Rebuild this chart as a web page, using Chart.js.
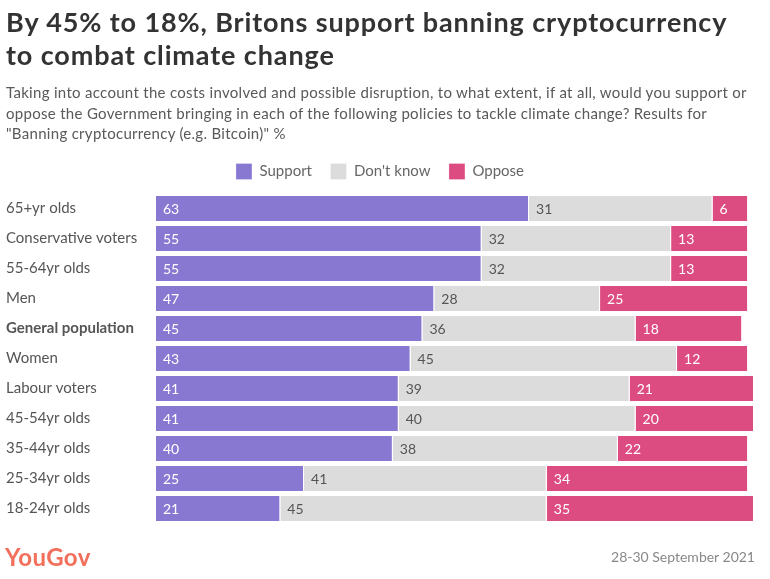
<!DOCTYPE html>
<html><head><meta charset="utf-8">
<script src="https://cdn.jsdelivr.net/npm/chart.js@4"></script>
<style>
html,body{margin:0;padding:0;background:#fff;}
#wrap{position:relative;width:770px;height:579px;overflow:hidden;font-family:Lato,"Open Sans",sans-serif;}
#title{position:absolute;left:6px;top:5px;font-size:27px;font-weight:700;color:#333;line-height:33px;letter-spacing:0.88px;white-space:nowrap;}
#sub{position:absolute;left:6px;top:82px;font-size:15px;color:#595959;line-height:20.5px;letter-spacing:0.3px;white-space:nowrap;}
#logo{position:absolute;left:5px;top:542px;font-size:24px;color:#f26f5c;font-weight:700;letter-spacing:0.4px;}
#date{position:absolute;right:15px;top:548px;font-size:14px;color:#888;}
canvas{position:absolute;left:0;top:0;}
</style></head><body>
<div id="wrap">
<canvas id="c" width="770" height="579"></canvas>
<div id="title">By 45% to 18%, Britons support banning cryptocurrency<br>to combat climate change</div>
<div id="sub">Taking into account the costs involved and possible disruption, to what extent, if at all, would you support or<br>oppose the Government bringing in each of the following policies to tackle climate change? Results for<br>"Banning cryptocurrency (e.g. Bitcoin)" %</div>
<div id="logo">YouGov</div>
<div id="date">28-30 September 2021</div>
</div>
<script>
const categories = ["65+yr olds","Conservative voters","55-64yr olds","Men","General population","Women","Labour voters","45-54yr olds","35-44yr olds","25-34yr olds","18-24yr olds"];
const support  = [63,55,55,47,45,43,41,41,40,25,21];
const dontKnow = [31,32,32,28,36,45,39,40,38,41,45];
const oppose   = [6,13,13,25,18,12,21,20,22,34,35];
const seriesNames = ["Support","Don't know","Oppose"];
const colors = ["#8878d2","#dcdcdc","#dd4c81"];
const labelColors = ["#ffffff","#555555","#ffffff"];

const valueLabels = {
  id:'valueLabels',
  afterDatasetsDraw(chart){
    const ctx = chart.ctx;
    ctx.save();
    ctx.font = '14px Lato, sans-serif';
    ctx.textBaseline = 'middle';
    ctx.textAlign = 'left';
    chart.data.datasets.forEach((ds,i)=>{
      const meta = chart.getDatasetMeta(i);
      meta.data.forEach((bar,j)=>{
        const v = ds.data[j];
        const left = Math.min(bar.base, bar.x);
        ctx.fillStyle = labelColors[i];
        ctx.fillText(String(v), left + 7, bar.y + 1);
      });
    });
    ctx.restore();
  }
};

// add a little extra space below the legend
const legendGap = {
  id:'legendGap',
  beforeUpdate(chart){
    const lg = chart.legend;
    if (lg && !lg._gapPatched){
      const proto = Object.getPrototypeOf(lg);
      lg.fit = function(){ proto.fit.call(this); this.height += 4; };
      lg._gapPatched = true;
    }
  }
};

new Chart(document.getElementById('c'), {
  type:'bar',
  data:{
    labels:categories,
    datasets:[
      {label:seriesNames[0], data:support, backgroundColor:colors[0]},
      {label:seriesNames[1], data:dontKnow, backgroundColor:colors[1]},
      {label:seriesNames[2], data:oppose, backgroundColor:colors[2]}
    ].map(d=>Object.assign(d,{borderColor:'#ffffff',borderWidth:{left:0,right:1,top:0,bottom:0},borderSkipped:false,barPercentage:0.83,categoryPercentage:1}))
  },
  options:{
    indexAxis:'y',
    responsive:false,
    animation:false,
    layout:{padding:{left:6,right:16,top:145,bottom:55.5}},
    plugins:{
      legend:{
        display:true, position:'top',
        labels:{boxWidth:16,boxHeight:16,padding:18.5,color:'#666',font:{family:'Lato, sans-serif',size:15}}
      },
      tooltip:{enabled:false}
    },
    scales:{
      x:{stacked:true,display:false,min:0,max:101},
      y:{stacked:true,
        grid:{display:false},border:{display:false},
        afterFit(s){s.width=150;},
        ticks:{crossAlign:'far',color:'#555',padding:6,
          font:(c)=>({family:'Lato, sans-serif',size:15,weight: categories[c.index]==='General population'?'bold':'normal'})}
      }
    }
  },
  plugins:[legendGap, valueLabels]
});
</script>
</body></html>
